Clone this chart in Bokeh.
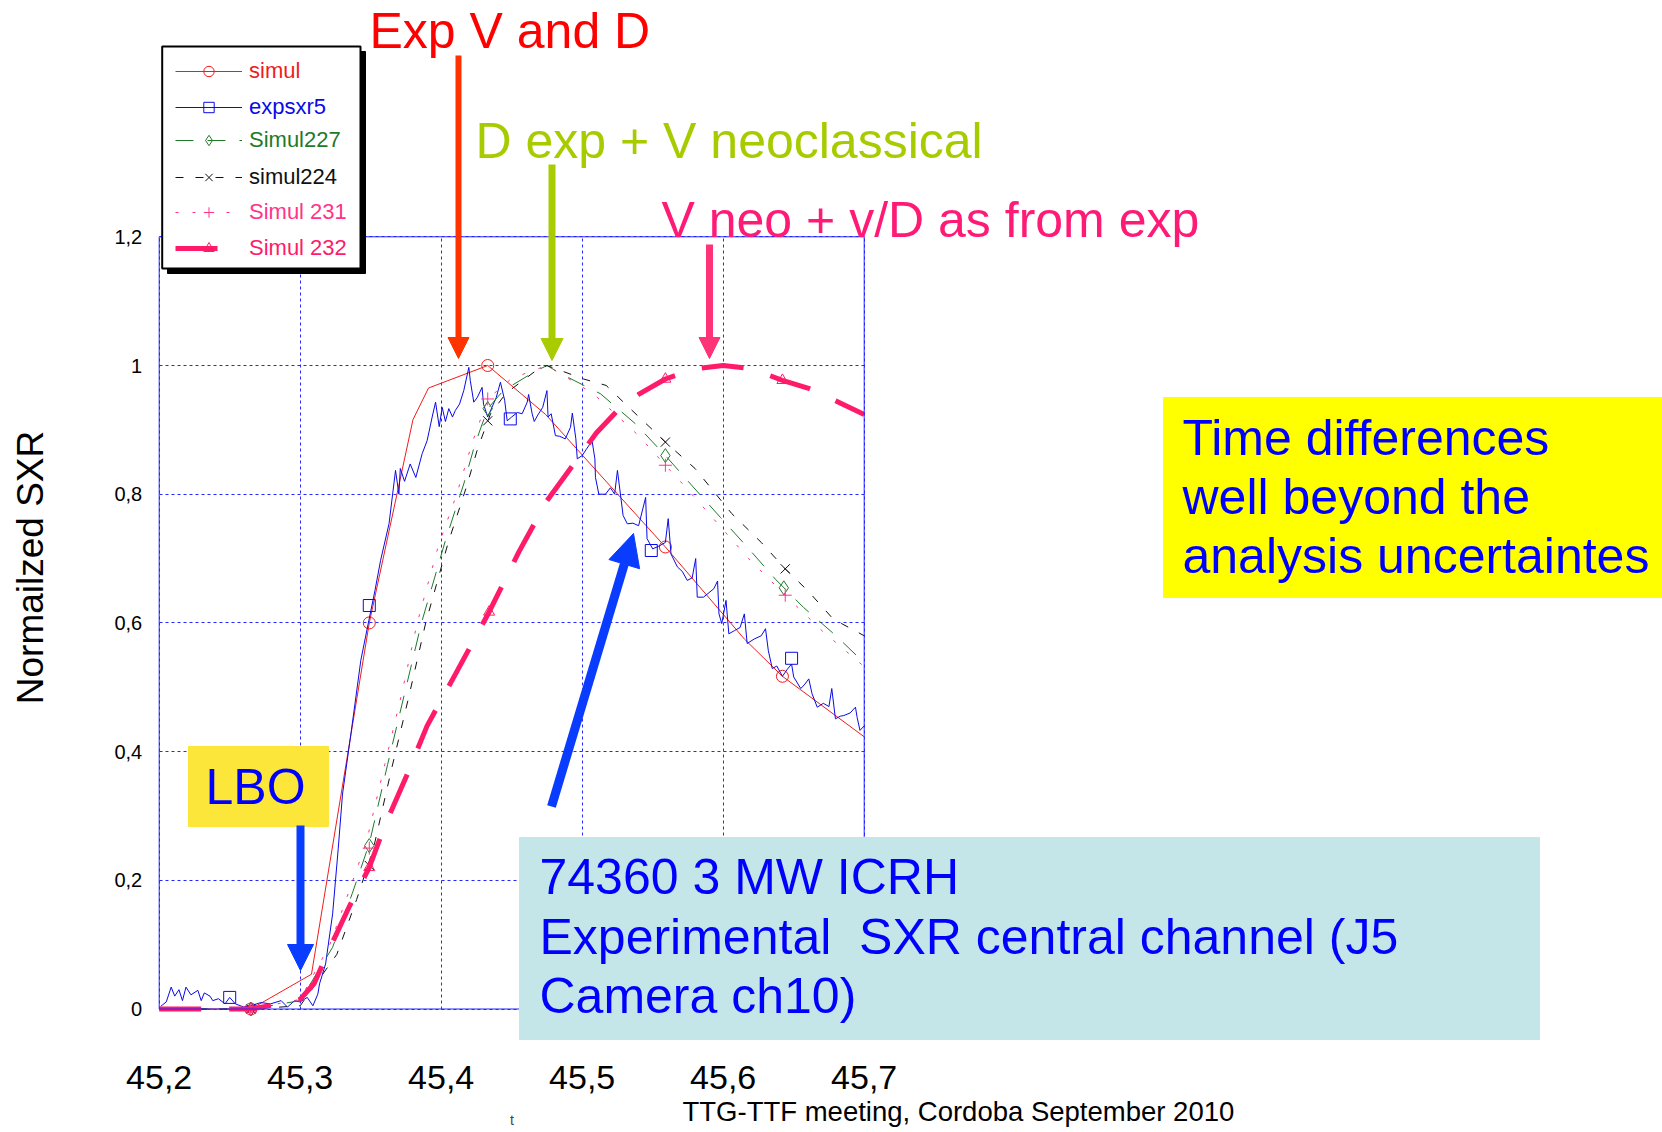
from math import pi
from bokeh.plotting import figure
from bokeh.models import (Range1d, FixedTicker, Label, Arrow, NormalHead,
                          BoxAnnotation, Legend, LegendItem)
from bokeh.embed import file_html
from bokeh.resources import INLINE

# ---------------- data ----------------
x_ticks = [45.2, 45.3, 45.4, 45.5, 45.6, 45.7]
x_tick_labels = ["45,2", "45,3", "45,4", "45,5", "45,6", "45,7"]
y_ticks = [0.0, 0.2, 0.4, 0.6, 0.8, 1.0, 1.2]
y_tick_labels = ["0", "0,2", "0,4", "0,6", "0,8", "1", "1,2"]

simul_x = [45.2, 45.265, 45.308, 45.349, 45.380, 45.391, 45.433, 45.474, 45.559, 45.615, 45.642, 45.700]
simul_y = [0.0, 0.0, 0.054, 0.600, 0.916, 0.965, 1.000, 0.924, 0.718, 0.575, 0.517, 0.423]
simul_mx = [45.265, 45.349, 45.433, 45.559, 45.642]
simul_my = [0.0, 0.600, 1.000, 0.718, 0.517]

exp_x = [45.201, 45.205, 45.2085, 45.211, 45.214, 45.2165, 45.219, 45.2225, 45.2274, 45.2298,
         45.232, 45.236, 45.238, 45.242, 45.2467, 45.25, 45.254, 45.26, 45.265, 45.272,
         45.279, 45.2865, 45.291, 45.296, 45.3, 45.305, 45.309, 45.3125, 45.3137, 45.318,
         45.323, 45.327, 45.330, 45.336, 45.343, 45.3487, 45.353, 45.357, 45.363, 45.3676,
         45.37, 45.371, 45.374, 45.378, 45.382, 45.3865, 45.39, 45.3936, 45.396, 45.3986,
         45.4007, 45.403, 45.4054, 45.408, 45.41, 45.413, 45.416, 45.4196, 45.4206, 45.4231,
         45.4255, 45.429, 45.43, 45.433, 45.436, 45.439, 45.442, 45.445, 45.4468, 45.45,
         45.454, 45.4574, 45.461, 45.462, 45.4645, 45.466, 45.4685, 45.472, 45.475, 45.4758,
         45.478, 45.481, 45.484, 45.488, 45.4917, 45.493, 45.4955, 45.4965, 45.50, 45.503,
         45.507, 45.509, 45.5094, 45.5118, 45.5165, 45.52, 45.523, 45.525, 45.529, 45.532,
         45.536, 45.54, 45.545, 45.546, 45.55, 45.555, 45.559, 45.561, 45.563, 45.5675,
         45.571, 45.5745, 45.578, 45.5805, 45.5816, 45.586, 45.5933, 45.596, 45.597, 45.599,
         45.602, 45.604, 45.608, 45.612, 45.615, 45.617, 45.622, 45.627, 45.63, 45.632,
         45.6348, 45.638, 45.642, 45.6455, 45.6485, 45.65, 45.655, 45.658, 45.6607, 45.663,
         45.6667, 45.671, 45.675, 45.677, 45.6796, 45.683, 45.6855, 45.69, 45.6938, 45.695,
         45.697, 45.7]
exp_y = [0.004, 0.011, 0.034, 0.020, 0.030, 0.013, 0.034, 0.022, 0.029, 0.013,
         0.025, 0.020, 0.013, 0.016, 0.008, 0.018, 0.008, 0.003, 0.005, 0.010,
         0.008, 0.013, 0.003, 0.013, 0.011, 0.018, 0.005, 0.023, 0.039, 0.070,
         0.148, 0.250, 0.334, 0.428, 0.542, 0.604, 0.650, 0.697, 0.754, 0.837,
         0.800, 0.840, 0.820, 0.847, 0.826, 0.863, 0.883, 0.920, 0.943, 0.905,
         0.935, 0.913, 0.933, 0.920, 0.930, 0.940, 0.961, 0.997, 0.977, 0.943,
         0.950, 0.966, 0.940, 0.920, 0.935, 0.950, 0.974, 0.946, 0.914, 0.920,
         0.927, 0.925, 0.943, 0.955, 0.925, 0.913, 0.923, 0.935, 0.961, 0.920,
         0.925, 0.891, 0.890, 0.886, 0.904, 0.926, 0.886, 0.855, 0.860, 0.870,
         0.883, 0.855, 0.826, 0.800, 0.800, 0.810, 0.800, 0.837, 0.767, 0.754,
         0.755, 0.751, 0.795, 0.731, 0.715, 0.720, 0.725, 0.762, 0.707, 0.687,
         0.680, 0.666, 0.670, 0.700, 0.640, 0.640, 0.653, 0.665, 0.614, 0.599,
         0.635, 0.583, 0.588, 0.593, 0.614, 0.568, 0.575, 0.580, 0.591, 0.557,
         0.529, 0.533, 0.517, 0.528, 0.536, 0.516, 0.498, 0.505, 0.513, 0.490,
         0.469, 0.475, 0.470, 0.498, 0.451, 0.455, 0.456, 0.460, 0.469, 0.453,
         0.433, 0.440]
exp_mx = [45.250, 45.349, 45.449, 45.549, 45.6485]
exp_my = [0.018, 0.627, 0.917, 0.7125, 0.545]

s227_x = [45.2, 45.265, 45.300, 45.323, 45.337, 45.349, 45.362, 45.374, 45.386, 45.403, 45.416,
          45.424, 45.433, 45.444, 45.466, 45.475, 45.485, 45.513, 45.538, 45.559, 45.578,
          45.598, 45.617, 45.637, 45.657, 45.680, 45.700]
s227_y = [0.0, 0.0, 0.013, 0.096, 0.180, 0.257, 0.380, 0.490, 0.600, 0.728, 0.816,
          0.878, 0.933, 0.961, 0.990, 1.000, 0.987, 0.956, 0.909, 0.860, 0.813,
          0.764, 0.718, 0.668, 0.624, 0.580, 0.538]
s227_mx = [45.265, 45.349, 45.433, 45.559, 45.643]
s227_my = [0.0, 0.254, 0.933, 0.860, 0.6545]

s224_x = [45.2, 45.265, 45.300, 45.326, 45.340, 45.352, 45.365, 45.377, 45.389, 45.405, 45.418,
          45.426, 45.435, 45.446, 45.466, 45.475, 45.501, 45.517, 45.534, 45.548, 45.559,
          45.580, 45.606, 45.627, 45.644, 45.660, 45.678, 45.700]
s224_y = [0.0, 0.0, 0.005, 0.085, 0.170, 0.250, 0.375, 0.485, 0.600, 0.725, 0.812,
          0.872, 0.925, 0.957, 0.990, 1.000, 0.979, 0.969, 0.933, 0.904, 0.881,
          0.840, 0.770, 0.725, 0.684, 0.650, 0.606, 0.580]
s224_mx = [45.265, 45.349, 45.433, 45.559, 45.644]
s224_my = [0.0, 0.223, 0.914, 0.881, 0.684]

s231_x = [45.2, 45.265, 45.300, 45.321, 45.335, 45.347, 45.360, 45.372, 45.383, 45.398, 45.411,
          45.422, 45.433, 45.450, 45.475, 45.508, 45.540, 45.559, 45.570, 45.589, 45.618,
          45.644, 45.670, 45.700]
s231_y = [0.0, 0.0, 0.015, 0.100, 0.185, 0.260, 0.380, 0.490, 0.600, 0.720, 0.800,
          0.880, 0.948, 0.980, 1.000, 0.956, 0.891, 0.845, 0.819, 0.772, 0.700,
          0.643, 0.588, 0.532]
s231_mx = [45.265, 45.349, 45.433, 45.559, 45.644]
s231_my = [0.0, 0.250, 0.948, 0.845, 0.643]

s232_x = [45.2, 45.265, 45.290, 45.300, 45.310, 45.320, 45.335, 45.349, 45.360, 45.375, 45.390,
          45.410, 45.434, 45.455, 45.475, 45.490, 45.510, 45.525, 45.540, 45.559, 45.580,
          45.600, 45.620, 45.642, 45.660, 45.680, 45.700]
s232_y = [0.0, 0.0, 0.010, 0.015, 0.040, 0.090, 0.160, 0.220, 0.285, 0.360, 0.440,
          0.520, 0.617, 0.710, 0.790, 0.835, 0.895, 0.930, 0.955, 0.979, 0.995,
          1.000, 0.995, 0.977, 0.965, 0.945, 0.924]
s232_mx = [45.265, 45.349, 45.434, 45.559, 45.642]
s232_my = [0.0, 0.220, 0.617, 0.979, 0.977]

# ---------------- layout ----------------
CW, CH = 1662, 1132            # canvas (page has no margin)
PL, PW = 158.7, 705.0          # plot region left / width  (px)
PT, PH = 236.3, 772.2          # plot region top / height (px)
X0, X1, Y0, Y1 = 45.2, 45.7, 0.0, 1.2
SX = PW / (X1 - X0)
SY = PH / (Y1 - Y0)
XS = X0 - PL / SX
YS = Y0 - (CH - (PT + PH)) / SY
FONT = "Liberation Sans"


def dx(px):
    """page pixel x -> data x"""
    return XS + px / SX


def dy(py):
    """page pixel y -> data y"""
    return YS + (CH - py) / SY


p = figure(width=CW, height=CH,
           x_range=Range1d(XS, XS + CW / SX), y_range=Range1d(YS, YS + CH / SY),
           output_backend="svg", toolbar_location=None, min_border=0,
           background_fill_color="white", border_fill_color="white")
p.outline_line_color = None

GRIDC = "#2626ff"

p.xaxis.ticker = FixedTicker(ticks=x_ticks)
p.xaxis.major_label_overrides = dict(zip(x_ticks, x_tick_labels))
p.yaxis.ticker = FixedTicker(ticks=y_ticks)
p.yaxis.major_label_overrides = dict(zip(y_ticks, y_tick_labels))
p.xaxis.fixed_location = Y0
p.yaxis.fixed_location = X0
p.xaxis.bounds = (X0, X1)
p.yaxis.bounds = (Y0, Y1)
for ax in (p.xaxis, p.yaxis):
    ax.axis_line_color = None
    ax.major_tick_line_color = None
    ax.minor_tick_line_color = None
    ax.major_tick_out = 0
    ax.major_tick_in = 0
    ax.minor_tick_out = 0
    ax.major_label_text_font = FONT
    ax.major_label_text_color = "black"
p.xaxis.major_label_text_font_size = "34px"
p.xaxis.major_label_standoff = 57
p.xaxis.axis_label = "t"
p.xaxis.axis_label_text_font = FONT
p.xaxis.axis_label_text_font_size = "14px"
p.xaxis.axis_label_text_font_style = "normal"
p.xaxis.axis_label_standoff = 19
p.yaxis.major_label_text_font_size = "20px"
p.yaxis.major_label_standoff = 17

for g in (p.xgrid, p.ygrid):
    g.grid_line_color = GRIDC
    g.grid_line_dash = "3 3"
    g.grid_line_width = 1
p.xgrid.ticker = FixedTicker(ticks=x_ticks)
p.ygrid.ticker = FixedTicker(ticks=y_ticks)
p.xgrid.bounds = (X0, X1)
p.ygrid.bounds = (Y0, Y1)
p.xgrid.cross_bounds = (Y0, Y1)
p.ygrid.cross_bounds = (X0, X1)

# ---------------- series ----------------
RED, BLUE, GREEN, BLACK, PINK1, PINK2 = "#f01c1c", "#0a0ae6", "#1f7a2a", "#111111", "#ff3388", "#ff1a6a"

r_s = p.line(simul_x, simul_y, line_color=RED, line_width=1)
m_s = p.scatter(simul_mx, simul_my, marker="circle", size=12, fill_color=None, line_color=RED)

r_e = p.line(exp_x, exp_y, line_color=BLUE, line_width=1)
m_e = p.scatter(exp_mx, exp_my, marker="square", size=12, fill_color=None, line_color=BLUE)

r_227 = p.line(s227_x, s227_y, line_color=GREEN, line_width=1, line_dash="18 14")
m_227 = p.scatter(s227_mx, s227_my, marker="diamond", size=14, fill_color=None, line_color=GREEN)

r_224 = p.line(s224_x, s224_y, line_color=BLACK, line_width=1, line_dash="8 12")
m_224 = p.scatter(s224_mx, s224_my, marker="x", size=13, line_color=BLACK)

r_231 = p.line(s231_x, s231_y, line_color=PINK1, line_width=1, line_dash="3 14")
m_231 = p.scatter(s231_mx, s231_my, marker="cross", size=13, line_color=PINK1)

r_232 = p.line(s232_x, s232_y, line_color=PINK2, line_width=5, line_dash="42 28")
m_232 = p.scatter(s232_mx, s232_my, marker="triangle", size=11, fill_color=None, line_color=PINK2)

# plot-region border
p.add_layout(BoxAnnotation(left=X0, right=X1, bottom=Y0, top=Y1, fill_alpha=0.0,
                           line_color=GRIDC, line_width=1, line_alpha=1.0))


# ---------------- annotations ----------------
def box(l, t, r, b, color, line=None, lw=1):
    bx = BoxAnnotation(left=dx(l), right=dx(r), top=dy(t), bottom=dy(b),
                       fill_color=color, fill_alpha=1.0,
                       line_color=line if line else color, line_width=lw, line_alpha=1.0)
    p.add_layout(bx)
    return bx


def label(txt, px, py, size, color, **kw):
    # py is the text baseline on the page
    lb = Label(x=dx(px), y=dy(py - 0.41 * size), text=txt, text_font=FONT,
               text_font_size=f"{size}px", text_color=color,
               text_baseline="alphabetic", text_align="left", **kw)
    p.add_layout(lb)
    return lb


def arrow(x0, y0, x1, y1, color, width, head):
    a = Arrow(end=NormalHead(size=head, fill_color=color, line_color=color, line_width=1),
              x_start=dx(x0), y_start=dy(y0), x_end=dx(x1), y_end=dy(y1),
              line_color=color, line_width=width)
    p.add_layout(a)


BIG = 50
BLUET = "#0000ff"

# LBO
box(188, 746, 328, 826, "#fde63a")
label("LBO", 205, 807, BIG, BLUET)
arrow(300, 825, 300, 970, "#0a3cff", 8, 26)

# cyan shot box
box(519, 837, 1539, 1039, "#c4e6e8")
label("74360 3 MW ICRH", 539, 897, BIG, BLUET)
label("Experimental\u00a0 SXR central channel (J5", 539, 957, BIG, BLUET)
label("Camera ch10)", 539, 1016, BIG, BLUET)
arrow(551, 806, 633, 533, "#0a3cff", 9, 32)

# right yellow box
box(1163, 397, 1662, 597, "#ffff00")
label("Time differences", 1182, 458, BIG, BLUET)
label("well beyond the", 1182, 517, BIG, BLUET)
label("analysis uncertaintes", 1182, 576, BIG, BLUET)

# top annotations
label("Exp V and D", 369, 51, BIG, "#ff0000")
arrow(458, 55, 458, 358, "#ff3300", 6, 21)
label("D exp + V neoclassical", 475, 161, BIG, "#a6cc00")
arrow(551.5, 164, 551.5, 360, "#a8cc00", 7, 22)
label("V neo + v/D as from exp", 661, 240, BIG, "#ff1a75")
arrow(709, 244, 709, 358, "#ff3377", 7, 21)

# y axis title and footer
p.add_layout(Label(x=dx(30), y=dy(567), text="Normailzed SXR", angle=pi / 2,
                   text_font=FONT, text_font_size="37px", text_color="black",
                   text_align="center", text_baseline="middle"))
label("TTG-TTF meeting, Cordoba September 2010", 682, 1122, 27.5, "black")

# ---------------- legend ----------------
box(167, 51, 365, 273, "black")
box(161.7, 46, 360, 268, "white", line="black", lw=2)

leg_rows = [
    ("simul", [r_s, m_s], RED, 70.7),
    ("expsxr5", [r_e, m_e], BLUE, 106.7),
    ("Simul227", [r_227, m_227], GREEN, 140.0),
    ("simul224", [r_224, m_224], BLACK, 176.7),
    ("Simul 231", [r_231, m_231], PINK1, 211.7),
    ("Simul 232", [r_232, m_232], PINK2, 248.3),
]
ITEM_H = 26
for name, rends, col, cy in leg_rows:
    vy = CH - cy - ITEM_H / 2
    lg = Legend(items=[LegendItem(label=name, renderers=rends)],
                location=(175, vy), padding=0, margin=0, spacing=0,
                glyph_width=67, glyph_height=ITEM_H, label_height=ITEM_H, label_standoff=7,
                label_text_font=FONT, label_text_font_size="22px", label_text_color=col,
                border_line_color=None, background_fill_alpha=0.0)
    p.add_layout(lg)

open("out.html", "w").write(file_html(p, INLINE))
